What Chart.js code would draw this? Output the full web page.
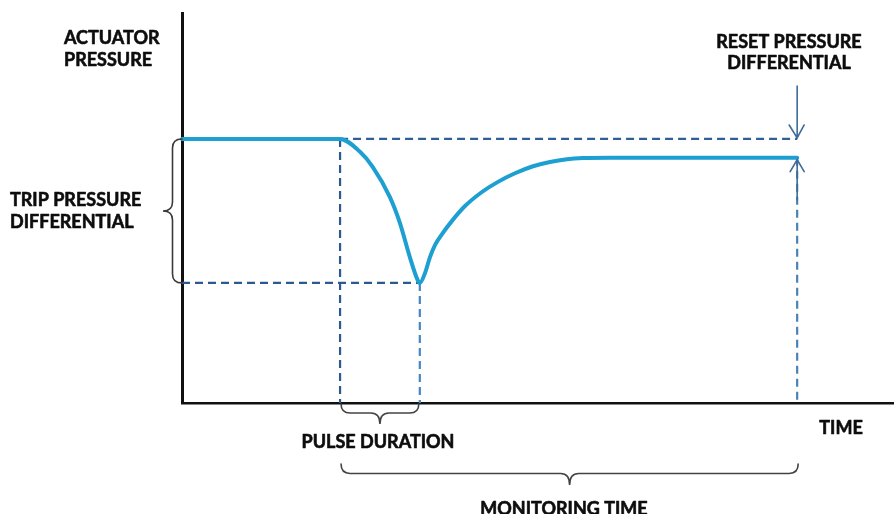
<!DOCTYPE html>
<html><head><meta charset="utf-8">
<script src="https://cdn.jsdelivr.net/npm/chart.js@4.4.1/dist/chart.umd.min.js"></script>
<style>html,body{margin:0;padding:0;background:#fff;overflow:hidden}#wrap{width:894px;height:514px;position:relative}</style>
</head><body><div id="wrap"><canvas id="c" width="894" height="514"></canvas></div>
<script>
// Time (0-100 arbitrary units) and actuator pressure (0-100 arbitrary units)
const curveTime     = [0, 22.2, 25.0, 26.8, 29.2, 30.6, 32.0, 33.1, 33.4, 34.13, 34.83, 35.53, 36.52, 37.92, 39.75, 42.13, 44.38, 46.77, 49.3, 51.69, 54.07, 56.32, 60.11, 86.4];
const curvePressure = [67.7, 67.7, 64.4, 60.5, 52.8, 46.2, 37.4, 31.5, 30.8, 33.3, 37.4, 40.5, 43.3, 46.7, 50.5, 54.1, 56.7, 58.9, 60.7, 61.8, 62.5, 62.8, 62.9, 62.9];
// Key instants and levels
const markerTimes  = [22.2, 33.4, 86.4];   // trip start, pulse end, monitoring end
const markerLevels = [67.7, 30.8, 62.9];   // set level, trip level, reset level
// Text labels
const yAxisLabel   = ['ACTUATOR', 'PRESSURE'];
const xAxisLabel   = ['TIME'];
const tripLabel    = ['TRIP PRESSURE', 'DIFFERENTIAL'];
const resetLabel   = ['RESET PRESSURE', 'DIFFERENTIAL'];
const pulseLabel   = ['PULSE DURATION'];
const monitorLabel = ['MONITORING TIME'];

const [tStart, tPulse, tEnd] = markerTimes;
const [lvSet, lvTrip, lvReset] = markerLevels;

function pts(xs, ys){ return xs.map((x,i)=>({x:x, y:ys[i]})); }
function dashed(data, color){
  return {data:data, borderColor:color, borderWidth:2.2, borderDash:[8,5], pointRadius:0, tension:0, clip:false, order:1};
}

const annot = {
  id:'annot',
  afterDraw(chart){
    const ctx = chart.ctx, xs = chart.scales.x, ys = chart.scales.y;
    const X = v => xs.getPixelForValue(v), Y = v => ys.getPixelForValue(v);
    const base = chart.chartArea.bottom, left = chart.chartArea.left;
    ctx.save();
    // braces
    ctx.strokeStyle = '#3a3a3a'; ctx.lineWidth = 1.6; ctx.lineCap='round';
    function braceDown(x1, x2, y, h){
      const m=(x1+x2)/2, q=h*0.45, r=Math.min(9,(x2-x1)/6);
      ctx.beginPath();
      ctx.moveTo(x1,y);
      ctx.quadraticCurveTo(x1, y+q, x1+r, y+q);
      ctx.lineTo(m-r, y+q);
      ctx.quadraticCurveTo(m, y+q, m, y+h);
      ctx.quadraticCurveTo(m, y+q, m+r, y+q);
      ctx.lineTo(x2-r, y+q);
      ctx.quadraticCurveTo(x2, y+q, x2, y);
      ctx.stroke();
    }
    function braceLeft(x, y1, y2, w){
      const m=(y1+y2)/2, q=w*0.5, r=9;
      ctx.beginPath();
      ctx.moveTo(x,y1);
      ctx.quadraticCurveTo(x-q, y1, x-q, y1+r);
      ctx.lineTo(x-q, m-r);
      ctx.quadraticCurveTo(x-q, m, x-w, m);
      ctx.quadraticCurveTo(x-q, m, x-q, m+r);
      ctx.lineTo(x-q, y2-r);
      ctx.quadraticCurveTo(x-q, y2, x, y2);
      ctx.stroke();
    }
    braceLeft(left, Y(lvSet), Y(lvTrip), 19);
    ctx.strokeStyle = '#444';
    braceDown(X(tStart)+1, X(tPulse)-1, base+1, 20);
    braceDown(X(tStart)+1, X(tEnd)+1, base+61, 21);
    // arrows
    ctx.strokeStyle = '#3d6c9a'; ctx.lineWidth = 1.6;
    const ax = X(tEnd), yTop = Y(lvSet), yRes = Y(lvReset);
    ctx.beginPath();
    ctx.moveTo(ax, yTop-53); ctx.lineTo(ax, yTop-1);
    ctx.moveTo(ax-8, yTop-14); ctx.lineTo(ax, yTop-1); ctx.lineTo(ax+7, yTop-14);
    ctx.moveTo(ax, yRes+2); ctx.lineTo(ax, yRes+42);
    ctx.moveTo(ax-7, yRes+14); ctx.lineTo(ax, yRes+2); ctx.lineTo(ax+7, yRes+14);
    ctx.stroke();
    // texts
    ctx.fillStyle = '#0d0d0d'; ctx.strokeStyle = '#0d0d0d'; ctx.lineWidth = 0.6; ctx.lineJoin = 'round';
    ctx.font = 'bold 18px Lato';
    ctx.textBaseline = 'alphabetic';
    function t(s, x, y){ ctx.fillText(s, x, y); ctx.strokeText(s, x, y); }
    ctx.textAlign = 'left';
    t(yAxisLabel[0], 64, 44);
    t(yAxisLabel[1], 64, 66);
    t(tripLabel[0], 10, 206);
    t(tripLabel[1], 10, 228);
    ctx.textAlign = 'center';
    t(resetLabel[0], 789, 48);
    t(resetLabel[1], 789, 69);
    t(pulseLabel[0], 378, 448);
    t(xAxisLabel[0], 841, 434);
    t(monitorLabel[0], 564, 515);
    ctx.restore();
  }
};

new Chart(document.getElementById('c'), {
  type:'line',
  data:{datasets:[
    {data:pts(curveTime, curvePressure), borderColor:'#1e9fd2', borderWidth:4, pointRadius:0,
     cubicInterpolationMode:'monotone', clip:false, order:0, borderCapStyle:'round', borderJoinStyle:'round'},
    dashed([{x:tStart,y:lvSet},{x:tEnd,y:lvSet}], '#2e5f96'),
    dashed([{x:0,y:lvTrip},{x:tPulse,y:lvTrip}], '#2a5a90'),
    dashed([{x:tStart,y:lvSet},{x:tStart,y:0}], '#2a5a90'),
    dashed([{x:tPulse,y:lvTrip},{x:tPulse,y:0}], '#4586c4'),
    dashed([{x:tEnd,y:lvReset},{x:tEnd,y:0}], '#4a82b4')
  ]},
  options:{
    responsive:false, animation:false,
    layout:{padding:{left:182, top:13, right:0, bottom:111}},
    plugins:{legend:{display:false}, tooltip:{enabled:false}},
    scales:{
      x:{type:'linear', min:0, max:100, grid:{display:false, drawTicks:false}, ticks:{display:false},
         border:{display:true, color:'#111', width:2.5}, afterFit(s){ s.height = 0; }},
      y:{type:'linear', min:0, max:100, grid:{display:false, drawTicks:false}, ticks:{display:false},
         border:{display:true, color:'#111', width:3}, afterFit(s){ s.width = 0; }}
    }
  },
  plugins:[annot]
});
</script></body></html>
